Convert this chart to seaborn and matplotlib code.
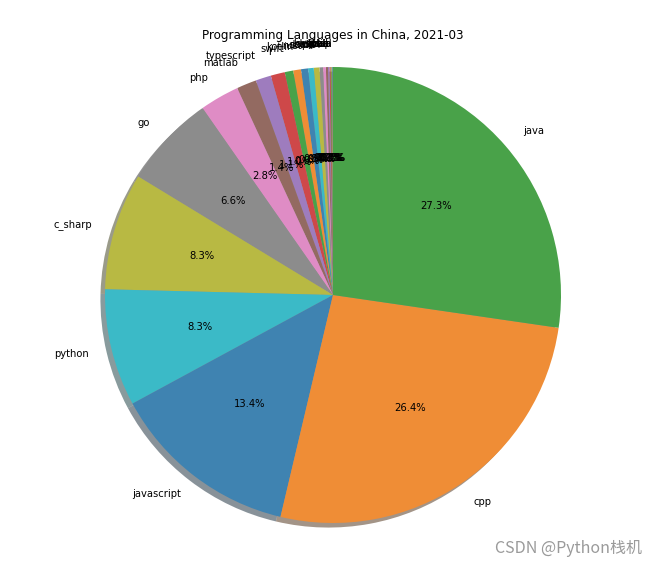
import numpy as np
import pandas as pd
import matplotlib
matplotlib.use("Agg")
import matplotlib.pyplot as plt
import seaborn as sns

# share of searches, ascending order (small ones)
languages = ["cobol", "ada", "abap", "julia", "haskell", "delphi", "lua", "perl",
             "scala", "dart", "rust", "kotlin", "swift", "r",
             "typescript", "matlab", "php", "go", "c_sharp", "python",
             "javascript", "cpp", "java"]
shares = [0.06, 0.05, 0.06, 0.08, 0.10, 0.15, 0.20, 0.25,
          0.40, 0.40, 0.50, 0.55, 0.60, 1.00,
          1.10, 1.40, 2.80, 6.60, 8.30, 8.30,
          13.40, 26.40, 27.30]

data = pd.DataFrame({"language": languages, "share": shares})

# tab10, a little washed out like the screenshot
pal = np.array(sns.color_palette("tab10", 10, desat=0.85))
colors = [tuple(c) for c in pal * 0.9 + 0.1]

fig = plt.figure(figsize=(660 / 72, 569 / 72), dpi=72)
ax = fig.add_axes([0, 0, 1, 1])

ax.pie(data["share"], labels=data["language"], colors=colors,
       autopct="%1.1f%%", startangle=90, shadow=True,
       wedgeprops={"linewidth": 0})

# place the pie: centre (333, 295) px, radius 228 px
R = 228.0
cx, cy = 333.0, 569 - 295.0
ax.set_aspect("auto")
ax.set_xlim(-cx / R, (660 - cx) / R)
ax.set_ylim(-cy / R, (569 - cy) / R)
ax.axis("off")

fig.text(333 / 660, 1 - 35 / 569, "Programming Languages in China, 2021-03",
         ha="center", va="center", fontsize=12)

fig.text(642 / 660, 1 - 548 / 569, "CSDN @Python栈机", ha="right", va="center",
         fontsize=16, color="#9a9a9a",
         family=["Noto Sans CJK SC", "DejaVu Sans"])

fig.savefig("out.png", dpi=72)
